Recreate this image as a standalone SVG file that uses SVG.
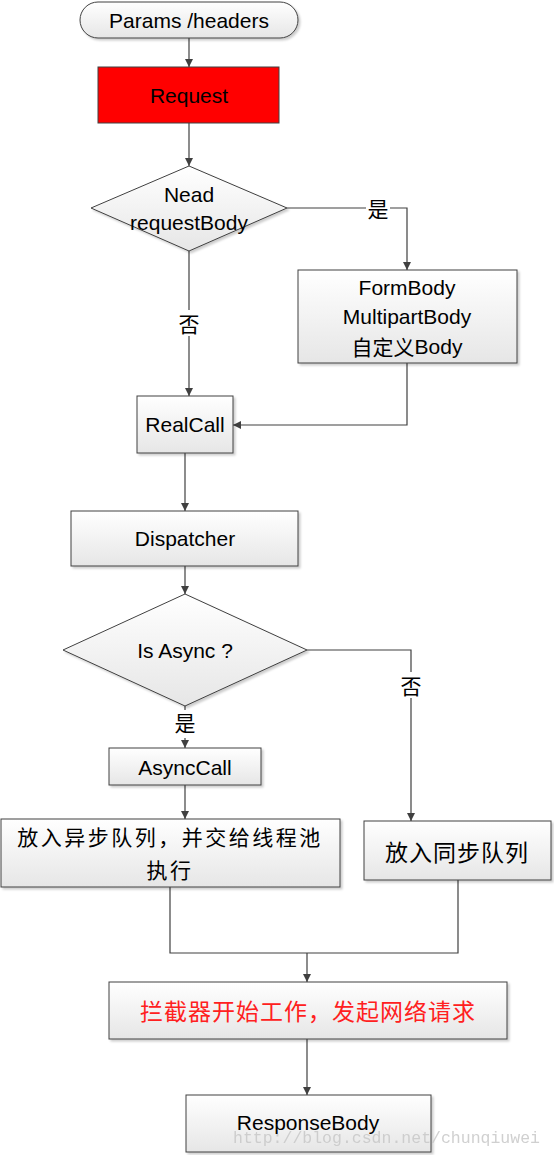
<svg xmlns="http://www.w3.org/2000/svg" width="554" height="1155" viewBox="0 0 554 1155">
<defs>
<linearGradient id="g" x1="0" y1="0" x2="0" y2="1">
<stop offset="0" stop-color="#ffffff"/>
<stop offset="1" stop-color="#e6e6e6"/>
</linearGradient>
<marker id="a" viewBox="0 0 10 10" refX="10" refY="5" markerWidth="8" markerHeight="8" markerUnits="userSpaceOnUse" orient="auto">
<path d="M0,0 L10,5 L0,10 z" fill="#404040"/>
</marker>
<filter id="s" x="-5%" y="-5%" width="115%" height="120%">
<feDropShadow dx="2" dy="2" stdDeviation="1" flood-color="#000" flood-opacity="0.2"/>
</filter>
</defs>
<style>
.n{fill:url(#g);stroke:#404040;stroke-width:1;filter:url(#s)}
.t{font-family:"Liberation Sans",Arial,sans-serif;font-size:21px;fill:#000;text-anchor:middle;dominant-baseline:central}
.c{font-family:"Noto Sans CJK SC",sans-serif;font-size:23px;letter-spacing:1px;fill:#000;text-anchor:middle;dominant-baseline:central}
.c2{font-family:"Noto Sans CJK SC",sans-serif;font-size:21px;letter-spacing:2.5px;fill:#000;text-anchor:middle;dominant-baseline:central}
.l{fill:none;stroke:#404040;stroke-width:1.2;marker-end:url(#a)}
.p{fill:none;stroke:#404040;stroke-width:1.2}
.lb{font-family:"Noto Sans CJK SC",sans-serif;font-size:21px;fill:#000;text-anchor:middle;dominant-baseline:central}
</style>
<rect width="554" height="1155" fill="#fff"/>
<g id="connectors">
<path class="l" d="M189,38 V67"/>
<path class="l" d="M189,123 V166"/>
<path class="l" d="M287,208 H407 V270"/>
<path class="l" d="M189,251 V396"/>
<path class="l" d="M407,363 V425 H233"/>
<path class="l" d="M185,453 V511"/>
<path class="l" d="M185,566 V594"/>
<path class="l" d="M307,650 H411 V821"/>
<path class="l" d="M185,706 V748"/>
<path class="l" d="M185,785 V819"/>
<path class="p" d="M170,887 V953 H458 V880"/>
<path class="l" d="M307,953 V982"/>
<path class="l" d="M307,1039 V1095"/>
<rect x="366" y="197" width="24" height="24" fill="#fff"/>
<text class="lb" x="378" y="208">是</text>
<rect x="177" y="310" width="24" height="26" fill="#fff"/>
<text class="lb" x="189" y="323">否</text>
<rect x="399" y="672" width="24" height="26" fill="#fff"/>
<text class="lb" x="411" y="685">否</text>
<rect x="173" y="710" width="24" height="28" fill="#fff"/>
<text class="lb" x="185" y="722">是</text>
</g>
<g id="params">
<rect class="n" x="80" y="2" width="218" height="36" rx="18" ry="18"/>
<text class="t" x="189" y="20">Params /headers</text>
</g>
<g id="request">
<rect x="98" y="67" width="181" height="56" fill="#ff0000" stroke="#404040" stroke-width="1"/>
<text class="t" x="189" y="95">Request</text>
</g>
<g id="needBody">
<polygon class="n" points="189,166 287,208 189,251 91,208"/>
<text class="t" x="189" y="194">Nead</text>
<text class="t" x="189" y="222">requestBody</text>
</g>
<g id="formBody">
<rect class="n" x="298" y="270" width="219" height="93"/>
<text class="t" x="407" y="287">FormBody</text>
<text class="t" x="407" y="316">MultipartBody</text>
<text class="t" x="407" y="346"><tspan font-family="Noto Sans CJK SC, sans-serif">自定义</tspan>Body</text>
</g>
<g id="realCall">
<rect class="n" x="137" y="396" width="96" height="57"/>
<text class="t" x="185" y="424">RealCall</text>
</g>
<g id="dispatcher">
<rect class="n" x="71" y="511" width="227" height="55"/>
<text class="t" x="185" y="538">Dispatcher</text>
</g>
<g id="isAsync">
<polygon class="n" points="185,594 307,650 185,706 63,650"/>
<text class="t" x="185" y="650">Is Async ?</text>
</g>
<g id="asyncCall">
<rect class="n" x="109" y="748" width="152" height="37"/>
<text class="t" x="185" y="767">AsyncCall</text>
</g>
<g id="asyncQueue">
<rect class="n" x="1" y="819" width="339" height="68"/>
<text class="c2" x="170" y="836">放入异步队列，并交给线程池</text>
<text class="c2" x="170" y="869">执行</text>
</g>
<g id="syncQueue">
<rect class="n" x="364" y="821" width="187" height="59"/>
<text class="c" x="457" y="851">放入同步队列</text>
</g>
<g id="interceptor">
<rect class="n" x="109" y="982" width="398" height="57"/>
<text class="c" x="308" y="1010" style="fill:#ff2020">拦截器开始工作，发起网络请求</text>
</g>
<g id="response">
<rect class="n" x="186" y="1095" width="245" height="57"/>
<text class="t" x="308" y="1122">ResponseBody</text>
</g>
<text x="233" y="1143" font-family="Liberation Mono, monospace" font-size="16.5" fill="#c8c8c8" opacity="0.85">http://blog.csdn.net/chunqiuwei</text>
</svg>
